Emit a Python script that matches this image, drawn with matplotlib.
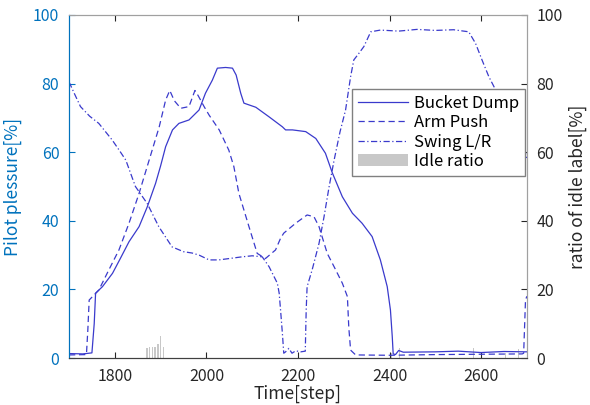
import matplotlib.pyplot as plt
from matplotlib.patches import Patch

plt.rcParams['font.family'] = ['Noto Sans CJK JP', 'DejaVu Sans']

# pilot pressure [%] vs time step
bucket_steps = [1700, 1730, 1750, 1755, 1758, 1773, 1795, 1812, 1831, 1853, 1871, 1889,
                1900, 1911, 1926, 1940, 1962, 1984, 1998, 2013, 2024, 2042, 2057, 2065,
                2075, 2082, 2108, 2137, 2166, 2173, 2188, 2217, 2239, 2260, 2275, 2297,
                2319, 2340, 2362, 2380, 2395, 2402, 2406, 2408, 2413, 2420, 2430, 2500,
                2550, 2600, 2650, 2700]
bucket_dump = [1.3, 1.2, 1.5, 10, 18.9, 20.8, 24.7, 29, 33.9, 38.3, 44.1, 50.9,
               56, 61.6, 66.5, 68.4, 69.4, 72.3, 77.2, 81, 84.5, 84.7, 84.5, 82.5,
               77.2, 74.3, 73.1, 70.3, 67.4, 66.5, 66.5, 66, 64, 59.7, 54, 47,
               42.2, 39.3, 35.4, 28.6, 20.8, 14, 6.2, 1.2, 1.0, 2.2, 1.7, 1.8,
               2.0, 1.6, 1.9, 1.8]

arm_steps = [1700, 1738, 1741, 1744, 1765, 1787, 1809, 1831, 1853, 1875, 1897, 1911,
             1920, 1930, 1944, 1962, 1975, 1982, 1995, 2006, 2028, 2049, 2060, 2071,
             2093, 2111, 2129, 2151, 2162, 2169, 2195, 2220, 2235, 2246, 2264, 2279,
             2297, 2308, 2311, 2315, 2326, 2400, 2500, 2600, 2690, 2693, 2697, 2700]
arm_push = [0.9, 1.0, 8, 16.9, 19.8, 25.7, 31.5, 39.3, 48, 57.7, 67.4, 75.2,
            78, 75, 72.8, 73.3, 78, 76.5, 73.3, 70.8, 66.5, 60.6, 55.8, 48,
            38.3, 30.5, 29, 31.5, 34.9, 36.4, 39.3, 41.7, 41.2, 38.3, 30.5, 26.6,
            21.8, 17.9, 9, 2.3, 0.9, 0.8, 1.0, 1.1, 1.2, 1.4, 16.9, 18]

swing_steps = [1700, 1712, 1725, 1745, 1765, 1794, 1810, 1824, 1845, 1871, 1896, 1925,
               1950, 1969, 1984, 2006, 2027, 2050, 2078, 2100, 2122, 2137, 2155, 2159,
               2162, 2166, 2169, 2173, 2180, 2187, 2195, 2206, 2216, 2218, 2220, 2231,
               2246, 2257, 2268, 2279, 2292, 2304, 2315, 2322, 2333, 2344, 2359, 2380,
               2420, 2460, 2500, 2540, 2573, 2588, 2602, 2617, 2632, 2650, 2668, 2683,
               2697, 2700]
swing_lr = [80.5, 77, 73.3, 70.5, 68.4, 63.6, 60.5, 57.7, 50, 45, 38.3, 32.4,
            31, 30.6, 30, 28.6, 28.6, 29, 29.5, 29.8, 29.5, 26.6, 21.8, 18.9,
            14, 7.2, 1.4, 1.8, 2.8, 1.4, 2.1, 1.8, 2.0, 14, 20.8, 25.7,
            33.4, 41.2, 49.9, 57.7, 66, 72.3, 82, 86.9, 88.8, 90.8, 95.1, 95.6,
            95.3, 95.8, 95.5, 95.7, 95.1, 91.7, 86.9, 82, 78.1, 74.5, 71, 67.4,
            59.7, 58]

# ratio of idle label [%]
idle_steps = [1870, 1876, 1882, 1888, 1894, 1900, 1906, 2405, 2422, 2584, 2654, 2682]
idle_ratio = [3.0, 3.2, 3.3, 3.3, 4.2, 6.4, 3.3, 1.5, 3.0, 2.8, 1.5, 2.5]

line_color = '#3a3acc'
left_color = '#0072BD'

fig = plt.figure(figsize=(5.9, 4.05), dpi=100)
ax = fig.add_axes([0.117, 0.116, 0.776, 0.847])
ax2 = ax.twinx()
ax.set_zorder(ax2.get_zorder() + 1)
ax.patch.set_visible(False)

ax2.bar(idle_steps, idle_ratio, width=3, color='#c8c8c8', linewidth=0)

ax.plot(bucket_steps, bucket_dump, color=line_color, lw=0.9, label='Bucket Dump')
ax.plot(arm_steps, arm_push, color=line_color, lw=0.9, dashes=(5, 3), label='Arm Push')
ax.plot(swing_steps, swing_lr, color=line_color, lw=0.9, dashes=(5, 2, 1, 2),
        label='Swing L/R')

ax.set_xlim(1700, 2700)
ax.set_ylim(0, 100)
ax2.set_ylim(0, 100)
ax.set_xticks([1800, 2000, 2200, 2400, 2600])
ax.set_yticks([0, 20, 40, 60, 80, 100])
ax2.set_yticks([0, 20, 40, 60, 80, 100])

ax.tick_params(axis='x', direction='in', length=4, top=True, labelsize=11.5,
               colors='#262626', pad=7)
ax.tick_params(axis='y', direction='in', length=4, labelsize=11.5,
               colors=left_color, pad=7)
ax2.tick_params(axis='y', direction='in', length=4, labelsize=11.5,
                colors='#262626', pad=7)

ax.set_xlabel('Time[step]', fontsize=12.5, color='#262626', labelpad=0)
ax.set_ylabel('Pilot plessure[%]', fontsize=12.5, color=left_color, labelpad=8)
ax2.set_ylabel('ratio of idle label[%]', fontsize=12.5, color='#262626', labelpad=4)

for a in (ax, ax2):
    a.spines['left'].set_color(left_color)
    a.spines['right'].set_color('#a0a0a0')
    a.spines['top'].set_color('#a0a0a0')
    a.spines['bottom'].set_color('#404040')

handles, labels = ax.get_legend_handles_labels()
handles.append(Patch(facecolor='#c8c8c8', edgecolor='none'))
labels.append('Idle ratio')
ax.legend(handles, labels, loc='upper left', bbox_to_anchor=(0.618, 0.785),
          borderaxespad=0, fontsize=12, handlelength=3.0, handletextpad=0.35,
          labelspacing=0.15, borderpad=0.35, fancybox=False, framealpha=1,
          edgecolor='#808080')

fig.savefig('out.png', dpi=100)
